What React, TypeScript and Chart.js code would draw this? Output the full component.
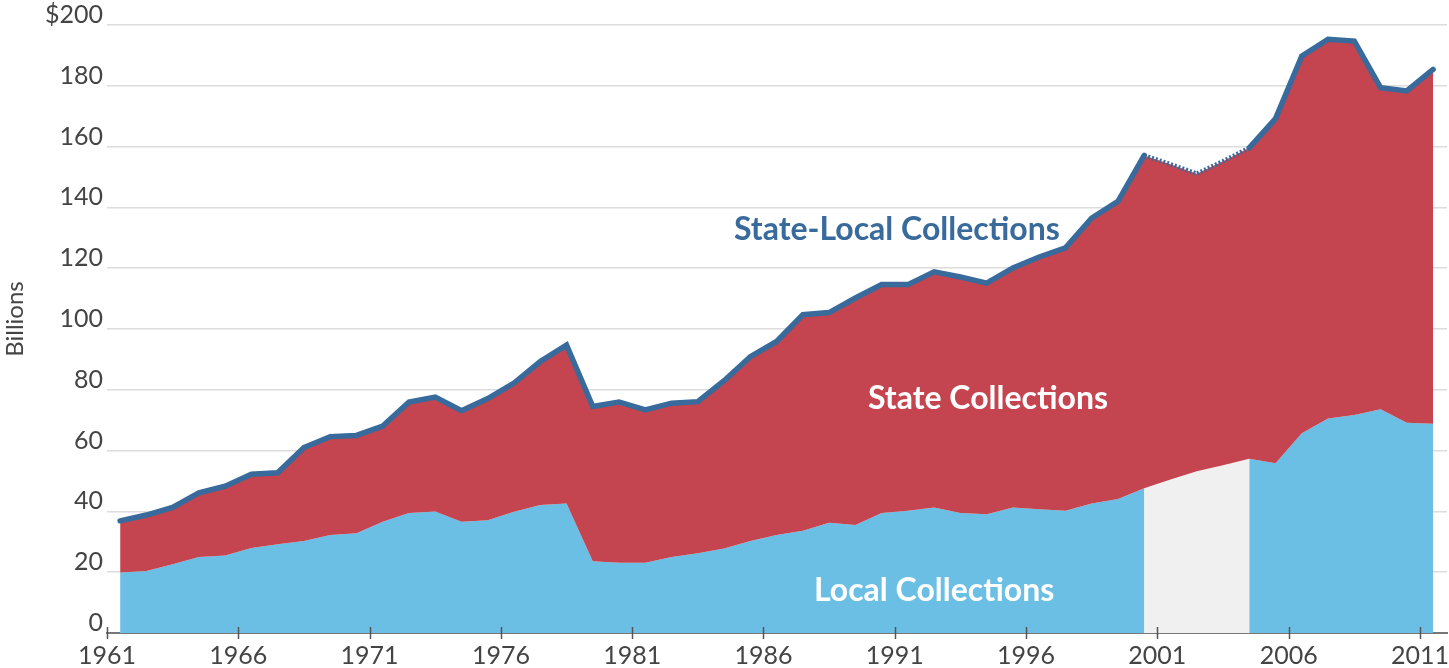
import React, { useEffect, useRef } from "react";
import { Chart, registerables } from "chart.js";

Chart.register(...registerables);

const years = [
  1961, 1962, 1963, 1964, 1965, 1966, 1967, 1968, 1969, 1970,
  1971, 1972, 1973, 1974, 1975, 1976, 1977, 1978, 1979, 1980,
  1981, 1982, 1983, 1984, 1985, 1986, 1987, 1988, 1989, 1990,
  1991, 1992, 1993, 1994, 1995, 1996, 1997, 1998, 1999, 2000,
  2001, 2002, 2003, 2004, 2005, 2006, 2007, 2008, 2009, 2010, 2011,
];

const totalCollections = [
  36.9, 38.8, 41.3, 46.1, 48.3, 52.2, 52.7, 61.0, 64.6, 65.0,
  68.1, 76.0, 77.6, 73.1, 77.1, 82.2, 89.3, 94.7, 74.5, 76.0,
  73.4, 75.6, 76.1, 83.0, 90.9, 95.9, 104.7, 105.4, 110.2, 114.6,
  114.6, 118.8, 117.1, 115.1, 120.1, 123.7, 126.7, 136.5, 142.0, 157.1,
  154.2, 151.1, 155.2, 159.6, 169.2, 189.8, 195.3, 194.7, 179.4, 178.3, 185.4,
];

const localCollections: (number | null)[] = [
  19.9, 20.4, 22.6, 25.0, 25.5, 28.0, 29.2, 30.3, 32.2, 32.8,
  36.6, 39.5, 40.0, 36.6, 37.1, 39.9, 42.1, 42.6, 23.6, 23.1,
  23.1, 25.0, 26.2, 27.8, 30.3, 32.2, 33.6, 36.3, 35.5, 39.5,
  40.2, 41.3, 39.5, 39.1, 41.3, 40.7, 40.2, 42.6, 44.1, 47.6,
  null, null, null, 57.3, 55.8, 65.7, 70.6, 71.7, 73.6, 69.2, 68.8,
];

// estimated local collections for the years without data
const localEstimated: (number | null)[] = [
  null, null, null, null, null, null, null, null, null, null,
  null, null, null, null, null, null, null, null, null, null,
  null, null, null, null, null, null, null, null, null, null,
  null, null, null, null, null, null, null, null, null, 47.6,
  50.5, 53.2, 55.2, 57.3, null, null, null, null, null, null, null,
];

const xTickYears = [1961, 1966, 1971, 1976, 1981, 1986, 1991, 1996, 2001, 2006, 2011];
const yTickValues = [0, 20, 40, 60, 80, 100, 120, 140, 160, 180, 200];

const areaLabels = ["State-Local Collections", "State Collections", "Local Collections"];
const areaLabelYears = [1991.08, 1994.55, 1992.5];
const areaLabelValues = [132.7, 77.0, 14.0];
const areaLabelColors = ["#386A9C", "#FFFFFF", "#FFFFFF"];
const yAxisTitle = "Billions";

const RED = "#C4444F";
const BLUE = "#6CBFE4";
const GRAY = "#F0F0F0";
const LINE = "#386A9C";
const TEXT = "#444444";

export default function App() {
  const canvasRef = useRef<HTMLCanvasElement | null>(null);

  useEffect(() => {
    document.body.style.margin = "0";
    const canvas = canvasRef.current;
    if (!canvas) return;

    const xs = years.map((y) => y + 0.5);
    const localFull = localCollections.map((v, i) => (v === null ? localEstimated[i] : v));
    const pts = (arr: (number | null)[]) => arr.map((v, i) => ({ x: xs[i], y: v }));
    const dottedFrom = localEstimated.findIndex((v) => v !== null);
    const dottedTo = localEstimated.length - 1 - [...localEstimated].reverse().findIndex((v) => v !== null);
    const isDotted = (ctx: any) => ctx.p0DataIndex >= dottedFrom && ctx.p1DataIndex <= dottedTo;

    const decorPlugin = {
      id: "decor",
      afterDatasetsDraw(chart: any) {
        const { ctx, scales, chartArea } = chart;
        ctx.save();
        // x-axis tick marks crossing the axis line
        ctx.strokeStyle = "#555555";
        ctx.lineWidth = 1.5;
        xTickYears.forEach((yr) => {
          const px = Math.round(scales.x.getPixelForValue(yr)) + 0.5;
          ctx.beginPath();
          ctx.moveTo(px, chartArea.bottom - 6);
          ctx.lineTo(px, chartArea.bottom + 6);
          ctx.stroke();
        });
        // area labels
        ctx.font = "bold 32px Lato";
        ctx.textAlign = "center";
        ctx.textBaseline = "middle";
        areaLabels.forEach((t, i) => {
          ctx.fillStyle = areaLabelColors[i];
          ctx.fillText(t, scales.x.getPixelForValue(areaLabelYears[i]), scales.y.getPixelForValue(areaLabelValues[i]));
        });
        // y-axis title
        ctx.translate(15, 319);
        ctx.rotate(-Math.PI / 2);
        ctx.font = "24px Lato";
        ctx.fillStyle = TEXT;
        ctx.fillText(yAxisTitle, 0, 0);
        ctx.restore();
      },
    };

    const chart = new Chart(canvas, {
      type: "line",
      data: {
        datasets: [
          {
            label: "State-Local Collections",
            data: pts(totalCollections),
            fill: false,
            borderColor: LINE,
            borderWidth: 5.5,
            borderCapStyle: "round",
            borderJoinStyle: "miter",
            pointRadius: 0,
            tension: 0,
            order: 0,
            segment: {
              borderDash: (ctx: any) => (isDotted(ctx) ? [2, 2] : undefined),
              borderCapStyle: (ctx: any) => (isDotted(ctx) ? "butt" : "round"),
              borderWidth: (ctx: any) => (isDotted(ctx) ? 4.5 : 5.5),
            },
          } as any,
          {
            label: "State Collections",
            data: pts(totalCollections),
            fill: 3,
            backgroundColor: RED,
            borderWidth: 0,
            pointRadius: 0,
            order: 1,
          },
          {
            label: "Local Collections",
            data: pts(localCollections),
            fill: "origin",
            backgroundColor: BLUE,
            borderWidth: 0,
            pointRadius: 0,
            spanGaps: false,
            order: 2,
          },
          {
            label: "Local Collections (estimated)",
            data: pts(localFull),
            fill: "origin",
            backgroundColor: GRAY,
            borderWidth: 0,
            pointRadius: 0,
            order: 3,
          },
        ],
      },
      options: {
        animation: false,
        responsive: true,
        maintainAspectRatio: false,
        layout: { padding: { top: 25, right: 2, left: 0, bottom: 0 } },
        plugins: { legend: { display: false }, tooltip: { enabled: false } },
        scales: {
          x: {
            type: "linear",
            min: 1961,
            max: 2012.03,
            afterBuildTicks: (s: any) => {
              s.ticks = xTickYears.map((v) => ({ value: v }));
            },
            afterFit: (s: any) => {
              s.height = 35;
              s.paddingLeft = 0;
              s.paddingRight = 0;
            },
            ticks: {
              autoSkip: false,
              maxRotation: 0,
              padding: 8,
              color: TEXT,
              font: { family: "Lato", size: 25 },
              callback: (v: any) => String(v),
            },
            grid: { drawOnChartArea: false, drawTicks: false },
            border: { color: "#777777", width: 2 },
          },
          y: {
            min: 0,
            max: 200,
            afterBuildTicks: (s: any) => {
              s.ticks = yTickValues.map((v) => ({ value: v }));
            },
            afterFit: (s: any) => {
              s.width = 107;
            },
            ticks: {
              padding: 4,
              labelOffset: -10,
              color: TEXT,
              font: { family: "Lato", size: 25 },
              callback: (v: any) => (v === 200 ? "$200" : String(v)),
            },
            grid: { color: "#DCDCDC", lineWidth: 1.5, drawTicks: false },
            border: { display: false },
          },
        },
      } as any,
      plugins: [decorPlugin],
    });
    return () => chart.destroy();
  }, []);

  return (
    <div style={{ width: 1449, height: 668, position: "relative" }}>
      <canvas ref={canvasRef} />
    </div>
  );
}
